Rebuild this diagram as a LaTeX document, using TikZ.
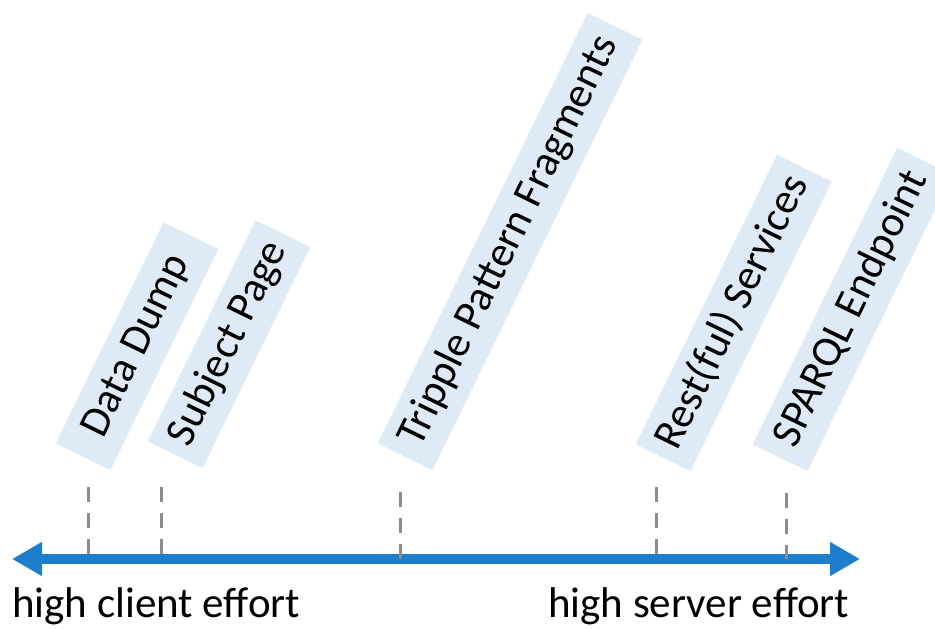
\documentclass[tikz,border=0pt]{standalone}
\usepackage{fontspec}
\setmainfont{Carlito}
\usetikzlibrary{arrows.meta}

\definecolor{axisblue}{RGB}{28,126,204}
\definecolor{labelblue}{RGB}{222,235,247}
\definecolor{tickgray}{RGB}{140,140,140}

\tikzset{
  label box/.style={fill=labelblue,rotate=64,anchor=west,font=\fontsize{43}{51}\selectfont,
    text height=31pt,text depth=10pt,minimum height=61pt,inner xsep=12pt},
  tick/.style={draw=tickgray,line width=3pt,dash pattern=on 15pt off 11pt},
  effort/.style={anchor=base west,inner sep=0pt,font=\fontsize{43}{51}\selectfont}
}

\begin{document}
\begin{tikzpicture}[x=1pt,y=1pt]
                    \useasboundingbox (0,0) rectangle (935,629);
                    % Labels
                    \node[label box,minimum width=246pt] (DD) at (83,172) {Data Dump};
                    \node[label box,minimum width=245pt] (SP) at (175,174) {Subject Page};
                    \node[label box,minimum width=479pt] (TPF) at (405,172) {Tripple Pattern Fragments};
                    \node[label box,minimum width=320pt] (RS) at (663,171) {Rest(ful) Services};
                    \node[label box,minimum width=330pt] (SE) at (780,171) {SPARQL Endpoint};
                    % Axis
                    \coordinate (L) at (12,70);
                    \coordinate (R) at (860,70);
                    \draw [axisblue,line width=10pt,{Triangle[length=30pt,width=32pt]}-{Triangle[length=30pt,width=32pt]}] (L) -- (R);
                    % Ticks
                    \coordinate (tDD) at (88,142);
                    \coordinate (tSP) at (161,142);
                    \coordinate (tTPF) at (400,137);
                    \coordinate (tRS) at (656,142);
                    \coordinate (tSE) at (786,136);
                    \draw [tick] (tDD) -- (tDD |- L);
                    \draw [tick] (tSP) -- (tSP |- L);
                    \draw [tick] (tTPF) -- (tTPF |- L);
                    \draw [tick] (tRS) -- (tRS |- L);
                    \draw [tick] (tSE) -- (tSE |- L);
                    % Ends
                    \node[effort] (client) at (12,11) {high client effort};
                    \node[effort] (server) at (548,11) {high server effort};
                \end{tikzpicture}
\end{document}
